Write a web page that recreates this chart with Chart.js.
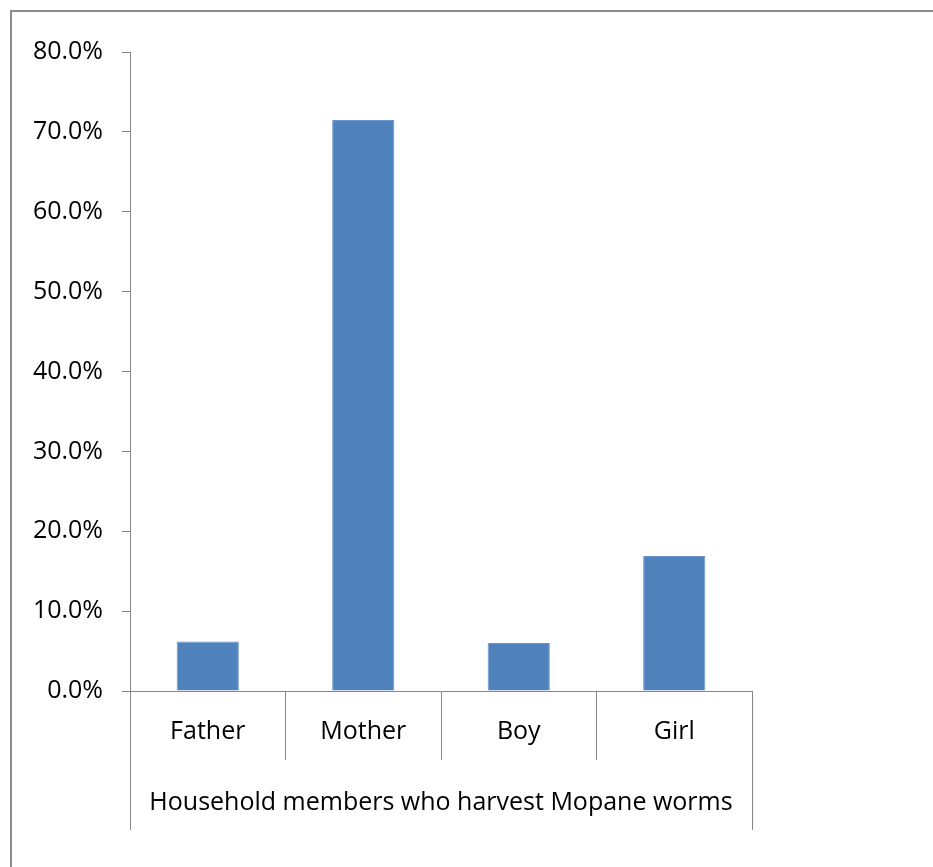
<!DOCTYPE html>
<html>
<head>
<meta charset="utf-8">
<script src="https://cdn.jsdelivr.net/npm/chart.js@4/dist/chart.umd.min.js"></script>
<style>
  html, body { margin: 0; padding: 0; background: #fff; overflow: hidden; }
  #frame {
    position: absolute; left: 10px; top: 10px;
    width: 1000px; height: 1000px;
    border-left: 2px solid #8c8c8c; border-top: 2px solid #8c8c8c;
  }
  #wrap { position: absolute; left: 0; top: 0; width: 933px; height: 867px; }
</style>
</head>
<body>
<div id="frame"></div>
<div id="wrap"><canvas id="chart" width="933" height="867"></canvas></div>
<script>
// Share of household members who harvest Mopane worms (%)
const categories = ['Father', 'Mother', 'Boy', 'Girl'];
const harvestShare = [6.2, 71.5, 6.0, 16.9];
const yTicks = [0, 10, 20, 30, 40, 50, 60, 70, 80];
const axisTitle = 'Household members who harvest Mopane worms';

const AXIS_COLOR = '#868686';
const FONT = { family: '"Open Sans", sans-serif', size: 25 };

// Extends the outer category-axis lines down around the axis title
const outerAxisLines = {
  id: 'outerAxisLines',
  afterDraw(chart) {
    const x = chart.scales.x;
    const ctx = chart.ctx;
    ctx.save();
    ctx.strokeStyle = AXIS_COLOR;
    ctx.lineWidth = 1;
    ctx.beginPath();
    [x.left, x.right].forEach(px => {
      const p = Math.round(px) + 0.5;
      ctx.moveTo(p, x.top);
      ctx.lineTo(p, 830);
    });
    ctx.stroke();
    ctx.restore();
  }
};

new Chart(document.getElementById('chart'), {
  type: 'bar',
  data: {
    labels: categories,
    datasets: [{
      data: harvestShare,
      backgroundColor: '#4F81BD',
      borderColor: '#6b95c8',
      borderWidth: 1,
      barPercentage: 0.4,
      categoryPercentage: 1.0
    }]
  },
  options: {
    responsive: false,
    animation: false,
    devicePixelRatio: 1,
    layout: { padding: { left: 0, top: 52, right: 181, bottom: 0 } },
    plugins: { legend: { display: false }, tooltip: { enabled: false } },
    scales: {
      x: {
        afterFit(scale) { scale.height = 176; },
        grid: {
          offset: true,
          drawOnChartArea: false,
          drawTicks: true,
          tickLength: 69,
          color: AXIS_COLOR
        },
        border: { display: true, color: AXIS_COLOR, width: 1 },
        ticks: { font: FONT, color: '#000', padding: -43, maxRotation: 0 },
        title: {
          display: true,
          text: axisTitle,
          font: FONT,
          color: '#000',
          padding: { top: 0, bottom: 49 }
        }
      },
      y: {
        min: 0,
        max: 80,
        afterFit(scale) { scale.width = 130; },
        afterBuildTicks(scale) { scale.ticks = yTicks.map(v => ({ value: v })); },
        grid: {
          drawOnChartArea: false,
          drawTicks: true,
          tickLength: 8,
          color: AXIS_COLOR
        },
        border: { display: true, color: AXIS_COLOR, width: 1 },
        ticks: {
          font: FONT,
          color: '#000',
          padding: 19,
          callback: v => v.toFixed(1) + '%'
        }
      }
    }
  },
  plugins: [outerAxisLines]
});
</script>
</body>
</html>
